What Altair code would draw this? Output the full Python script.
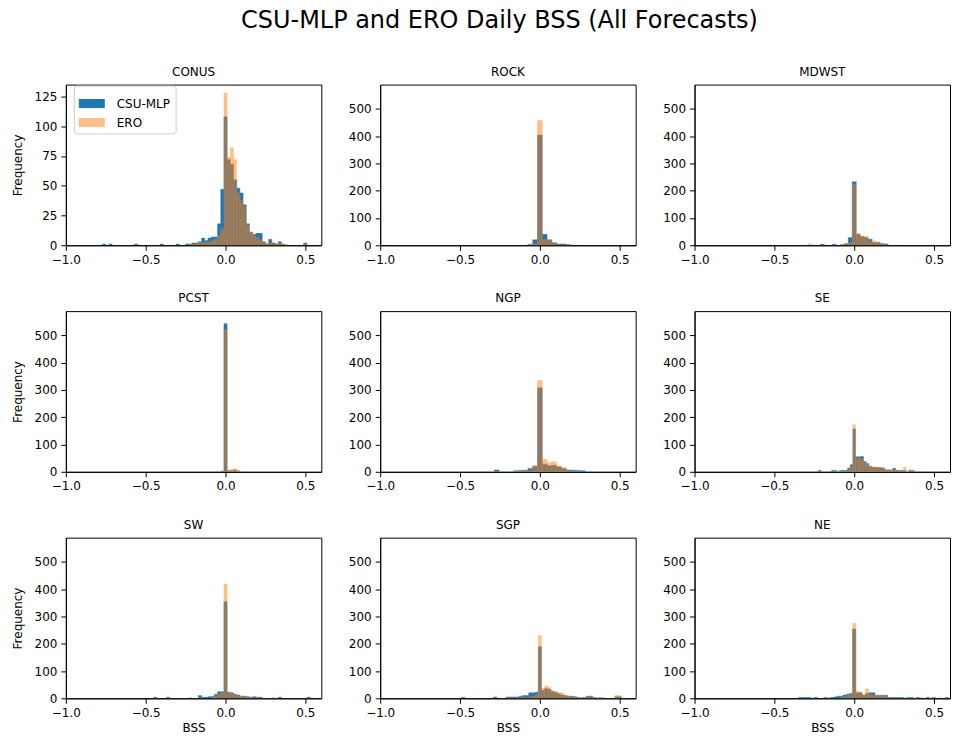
import altair as alt
import pandas as pd

# Regions in panel order (row by row)
REGIONS = ["CONUS", "ROCK", "MDWST", "PCST", "NGP", "SE", "SW", "SGP", "NE"]
MODELS = ["CSU-MLP", "ERO"]
MODEL_COLORS = ["#1f77b4", "#ff7f0e"]

# Histogram bin width per region; bin j spans [(j - 0.5) * w, (j + 0.5) * w]
BIN_WIDTH = {"CONUS": 0.02, "ROCK": 0.03, "MDWST": 0.025, "PCST": 0.02, "NGP": 0.03,
             "SE": 1 / 60, "SW": 0.02, "SGP": 0.02, "NE": 0.02}
# Index j of the first count in each list
FIRST_BIN = {"CONUS": -38, "ROCK": -2, "MDWST": -11, "PCST": -1, "NGP": -9,
             "SE": -13, "SW": -22, "SGP": -24, "NE": -17}

CONUS_CSU = [1, 0, 1, 0, 0, 0, 0, 0, 0, 0, 1, 0, 0, 0, 0, 0, 0, 0, 1, 0,
             0, 0, 0, 1, 0, 0, 1, 1, 2, 2, 3, 6, 4, 6, 7, 7, 18, 47, 108, 72,
             68, 55, 48, 44, 34, 18, 11, 9, 10, 10, 3, 1, 5, 2, 1, 3, 1, 0, 0, 0,
             0, 0, 0, 2]
CONUS_ERO = [0] * 27 + [1, 1, 2, 2, 2, 3, 3, 4, 5, 8, 14, 128, 74, 82, 72, 44, 38, 33, 17, 11,
                        8, 7, 5, 3, 2, 2, 1, 2, 2, 1, 1, 0, 0, 0, 0, 0, 2]

ROCK_CSU = [3, 20, 404, 40, 20, 9, 5, 5, 2]
ROCK_ERO = [5, 7, 458, 22, 20, 10, 3, 3, 3]

MDWST_CSU = [0, 0, 0, 4, 0, 0, 4, 0, 2, 6, 28, 233, 40, 32, 28, 22, 10, 10, 6, 5]
MDWST_ERO = [5, 0, 0, 0, 0, 0, 0, 0, 1, 6, 10, 225, 44, 34, 32, 16, 16, 12, 6, 2]

PCST_CSU = [3, 543, 4, 5, 6, 2]
PCST_ERO = [2, 522, 6, 8, 12, 5]

NGP_CSU = [7, 0, 0, 0, 4, 5, 6, 12, 20, 308, 28, 22, 24, 18, 12, 7, 6, 5, 4]
NGP_ERO = [0, 0, 0, 0, 2, 3, 4, 6, 24, 335, 46, 34, 37, 22, 16, 6, 3, 1, 0]

SE_CSU = [5, 0, 0, 0, 0, 5, 5, 0, 5, 5, 5, 13, 26, 157, 55, 55, 56, 38, 30, 20,
          17, 16, 16, 15, 14, 7, 7, 6, 13, 6, 5, 5, 5, 0, 5, 5]
SE_ERO = [0, 0, 0, 0, 0, 0, 2, 0, 2, 3, 4, 8, 20, 173, 52, 50, 48, 38, 28, 20,
          18, 17, 16, 16, 14, 8, 8, 7, 7, 5, 5, 4, 17, 0, 7, 7]

SW_CSU = [4, 0, 0, 0, 4, 0, 0, 0, 0, 0, 0, 0, 0, 0, 10, 4, 4, 6, 8, 15,
          24, 24, 354, 22, 20, 15, 12, 8, 8, 6, 4, 6, 4, 4, 0, 0, 0, 0, 0, 4,
          0, 0, 0, 0, 0, 0, 0, 0, 4, 0]
SW_ERO = [0, 0, 0, 0, 0, 0, 0, 0, 0, 0, 0, 4, 0, 0, 0, 0, 0, 0, 6, 10,
          16, 20, 419, 22, 18, 14, 10, 8, 6, 5, 4, 0, 4, 0, 0, 0, 0, 4, 0, 0,
          0, 0, 0, 0, 0, 0, 0, 0, 0, 3]

SGP_CSU = [4, 0, 0, 0, 0, 0, 0, 0, 0, 0, 5, 0, 0, 0, 5, 5, 5, 5, 8, 10,
           10, 20, 20, 22, 189, 30, 36, 33, 25, 22, 17, 12, 10, 8, 8, 6, 3, 2, 3, 8,
           8, 3, 0, 2, 0, 0, 0, 0, 6, 6]
SGP_ERO = [0, 0, 0, 0, 0, 0, 0, 0, 0, 0, 0, 0, 0, 0, 2, 2, 2, 2, 3, 3,
           3, 5, 8, 15, 230, 38, 45, 40, 28, 25, 20, 20, 12, 8, 6, 6, 3, 2, 2, 5,
           3, 2, 4, 2, 3, 0, 0, 0, 10, 10]

NE_CSU = [3, 3, 3, 3, 0, 3, 0, 0, 3, 0, 3, 5, 8, 8, 12, 15, 18, 254, 20, 20,
          12, 18, 20, 20, 11, 11, 11, 11, 3, 3, 3, 3, 3, 0, 3, 3, 0, 3, 0, 0,
          3, 0, 3, 0, 0, 0, 3, 0]
NE_ERO = [0, 0, 0, 0, 0, 0, 0, 0, 0, 4, 0, 0, 0, 3, 8, 10, 14, 275, 27, 23,
          12, 35, 14, 12, 11, 11, 10, 10, 3, 0, 2, 0, 0, 2, 0, 0, 0, 0, 3, 0,
          0, 0, 0, 0, 2, 0, 0, 0]

COUNTS = {
    "CONUS": (CONUS_CSU, CONUS_ERO), "ROCK": (ROCK_CSU, ROCK_ERO),
    "MDWST": (MDWST_CSU, MDWST_ERO), "PCST": (PCST_CSU, PCST_ERO),
    "NGP": (NGP_CSU, NGP_ERO), "SE": (SE_CSU, SE_ERO),
    "SW": (SW_CSU, SW_ERO), "SGP": (SGP_CSU, SGP_ERO), "NE": (NE_CSU, NE_ERO),
}

CONUS_TICKS = [0, 25, 50, 75, 100, 125]
REGION_TICKS = [0, 100, 200, 300, 400, 500]
X_TICKS = [-1.0, -0.5, 0.0, 0.5]

rows = []
for region in REGIONS:
    w = BIN_WIDTH[region]
    for layer, (model, counts) in enumerate(zip(MODELS, COUNTS[region])):
        for k, c in enumerate(counts):
            if c > 0:
                j = FIRST_BIN[region] + k
                rows.append({"region": region, "model": model, "layer": layer,
                             "lo": (j - 0.5) * w, "hi": (j + 0.5) * w, "count": c})
df = pd.DataFrame(rows)

FONT = "DejaVu Sans"
model_scale = alt.Scale(domain=MODELS, range=MODEL_COLORS)


def panel(region, r, c):
    is_conus = region == "CONUS"
    if is_conus:
        leg = alt.Legend(title=None, orient="none", legendX=8, legendY=1,
                         symbolType="M-1,-0.35H1V0.35H-1Z", symbolSize=676,
                         symbolStrokeWidth=0, labelFont=FONT, labelFontSize=12,
                         labelColor="black", labelOffset=12, rowPadding=0,
                         fillColor="white", strokeColor="#cccccc", cornerRadius=3,
                         padding=5)
    else:
        leg = None
    return alt.Chart(df[df.region == region]).mark_rect(clip=True, strokeWidth=0.4).encode(
        x=alt.X("lo:Q", scale=alt.Scale(domain=[-1, 0.6], nice=False, zero=False),
                axis=alt.Axis(values=X_TICKS, format=".1f"),
                title="BSS" if r == 2 else None),
        x2="hi:Q",
        y=alt.Y("count:Q", scale=alt.Scale(domain=[0, 135 if is_conus else 589], nice=False),
                axis=alt.Axis(values=CONUS_TICKS if is_conus else REGION_TICKS, titlePadding=10),
                title="Frequency" if c == 0 else None),
        y2=alt.datum(0),
        color=alt.Color("model:N", scale=model_scale, legend=leg),
        stroke=alt.Stroke("model:N", scale=model_scale, legend=None),
        opacity=alt.Opacity("model:N", scale=alt.Scale(domain=MODELS, range=[1.0, 0.5]), legend=leg),
        order=alt.Order("layer:Q"),
    ).properties(width=256, height=161, title=region)


panels = [panel(REGIONS[3 * r + c], r, c) for r in range(3) for c in range(3)]

chart = alt.concat(
    *panels, columns=3, spacing={"row": 66, "column": 59}, bounds="flush"
).resolve_legend(
    color="independent", opacity="independent"
).properties(
    title=alt.TitleParams("CSU-MLP and ERO Daily BSS (All Forecasts)", fontSize=24,
                          font=FONT, fontWeight="normal", color="black", anchor="middle",
                          offset=32, dx=19),
    padding={"left": 10, "top": 8, "right": 2, "bottom": 5},
).configure_view(
    stroke="black", strokeWidth=1
).configure_axis(
    grid=False, domainColor="black", domainWidth=1, tickColor="black", tickSize=5,
    labelColor="black", labelFont=FONT, labelFontSize=12, labelPadding=4,
    titleColor="black", titleFont=FONT, titleFontSize=12, titleFontWeight="normal",
    labelFlush=False, labelOverlap=False,
).configure_title(
    font=FONT, fontSize=12, fontWeight="normal", color="black", offset=6
)

chart.save("out.html", embed_options={"renderer": "svg", "actions": False})
